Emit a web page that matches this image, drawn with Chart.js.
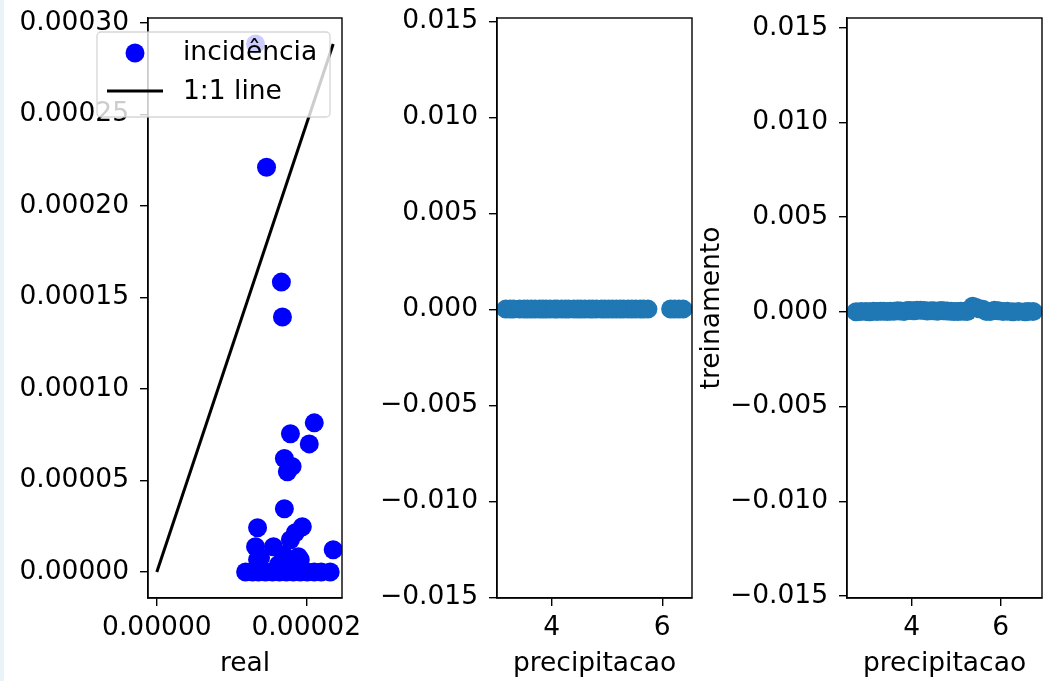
<!DOCTYPE html>
<html>
<head>
<meta charset="utf-8">
<script src="https://cdn.jsdelivr.net/npm/chart.js@4.4.1/dist/chart.umd.min.js"></script>
<style>
  body { margin: 0; background: #fff; width: 1046px; height: 681px; overflow: hidden; position: relative; }
  canvas { position: absolute; top: 0; }
  #faixa { position: absolute; left: 0; top: 0; width: 4px; height: 681px; background: #eaf3f8; }
</style>
</head>
<body>
<div id="faixa"></div>
<canvas id="painel1" width="360" height="681" style="left:0px"></canvas>
<canvas id="painel2" width="340" height="681" style="left:370px"></canvas>
<canvas id="painel3" width="370" height="681" style="left:690px"></canvas>
<script>
// dados lidos do grafico
// painel 1: real x previsto
const realX = [1.321e-5, 1.468e-5, 1.667e-5, 1.681e-5, 2.107e-5, 1.788e-5, 2.04e-5, 1.707e-5, 1.81e-5, 1.747e-5,
  1.707e-5, 1.947e-5, 1.348e-5, 1.321e-5, 1.561e-5, 2.36e-5, 1.788e-5, 1.854e-5, 1.894e-5, 1.694e-5,
  1.388e-5, 1.814e-5, 1.627e-5, 1.348e-5, 1.92e-5,
  1.188e-5, 1.281e-5, 1.361e-5, 1.454e-5, 1.548e-5, 1.641e-5, 1.734e-5, 1.827e-5, 1.92e-5, 2.013e-5,
  2.107e-5, 2.2e-5, 2.32e-5];
const previstoY = [2.885e-4, 2.212e-4, 1.584e-4, 1.393e-4, 8.15e-5, 7.55e-5, 7.0e-5, 6.2e-5, 5.77e-5, 5.48e-5,
  3.46e-5, 2.47e-5, 2.42e-5, 1.38e-5, 1.38e-5, 1.22e-5, 1.76e-5, 2.15e-5, 8.4e-6, 9.4e-6,
  7.8e-6, 5.6e-6, 4.0e-6, 6.7e-6, 6.7e-6,
  0, 0, 0, 0, 0, 0, 0, 0, 0, 0,
  0, 0, 0];

// painel 2: precipitacao x real
const precip2 = [3.17, 3.25, 3.31, 3.42, 3.5, 3.56, 3.63, 3.7, 3.78, 3.84, 3.9, 3.97, 4.05, 4.1, 4.18, 4.25,
  4.31, 4.4, 4.47, 4.53, 4.6, 4.68, 4.74, 4.81, 4.9, 4.96, 5.03, 5.1, 5.17, 5.24, 5.3, 5.38, 5.45,
  5.52, 5.6, 5.66, 5.74, 6.15, 6.22, 6.3, 6.376];
const real2 = [1.2e-5, 1.4e-5, 1.9e-5, 1.3e-5, 1.6e-5, 1.8e-5, 1.5e-5, 2.1e-5, 1.7e-5, 1.4e-5, 1.9e-5, 1.6e-5,
  1.8e-5, 2.0e-5, 1.7e-5, 1.5e-5, 1.9e-5, 2.2e-5, 1.6e-5, 1.8e-5, 1.4e-5, 2.0e-5, 1.7e-5, 1.5e-5,
  2.1e-5, 1.8e-5, 1.3e-5, 1.9e-5, 1.6e-5, 2.36e-5, 1.7e-5, 1.5e-5, 1.8e-5, 1.4e-5, 2.0e-5, 1.6e-5,
  1.3e-5, 1.9e-5, 1.5e-5, 1.7e-5, 1.2e-5];

// painel 3: precipitacao x treinamento
const precip3 = [2.75, 2.86, 2.97, 3.05, 3.14, 3.22, 3.3, 3.37, 3.45, 3.52, 3.6, 3.68, 3.75, 3.83, 3.9, 3.97,
  4.05, 4.12, 4.2, 4.28, 4.35, 4.43, 4.5, 4.58, 4.65, 4.72, 4.8, 4.88, 4.95, 5.03, 5.1, 5.18, 5.25,
  5.37, 5.45, 5.52, 5.6, 5.68, 5.77, 5.86, 5.95, 6.05, 6.15, 6.27, 6.4, 6.55, 6.62, 6.729];
const treino3 = [0, 1.0e-5, 2.0e-5, 0, 2.4e-5, 1.4e-5, 3.5e-5, 2.5e-5, 1.2e-5, 3.4e-5, 2.4e-5, 5.6e-5,
  4.0e-5, 2.0e-5, 6.2e-5, 7.0e-5, 5.5e-5, 8.1e-5, 7.5e-5, 7.0e-5, 4.4e-5, 6.0e-5, 5.0e-5, 3.0e-5,
  6.2e-5, 5.5e-5, 3.9e-5, 2.5e-5, 1.4e-5, 1.8e-5, 3.0e-5, 2.2e-5, 1.6e-5,
  2.885e-4, 2.212e-4, 1.584e-4, 1.393e-4, 2.0e-5, 1.2e-5, 7.6e-5, 5.0e-5, 1.3e-5, 2.4e-5,
  0, 1.0e-5, 0, 1.4e-5, 1.22e-5];

const ticksY1 = [0, 0.00005, 0.0001, 0.00015, 0.0002, 0.00025, 0.0003];
const ticksX1 = [0, 0.00002];
const ticksY = [-0.015, -0.01, -0.005, 0, 0.005, 0.01, 0.015];
const ticksX = [4, 6];

Chart.defaults.font.family = 'DejaVu Sans';
Chart.defaults.font.size = 26.5;
Chart.defaults.color = '#000';

function pontos(xs, ys) {
  return xs.map((x, i) => ({x: x, y: ys[i]}));
}

function fmtMenos(v, casas) {
  return v < 0 ? '\u2212' + Math.abs(v).toFixed(casas) : v.toFixed(casas);
}

// moldura preta em volta da area do grafico
const moldura = {
  id: 'moldura',
  afterDatasetsDraw(chart) {
    const a = chart.chartArea, ctx = chart.ctx;
    ctx.save();
    ctx.strokeStyle = '#000';
    ctx.lineWidth = 1.4;
    ctx.strokeRect(a.left, a.top, a.right - a.left, a.bottom - a.top);
    ctx.restore();
  }
};

// legenda estilo matplotlib, por cima dos pontos
const legenda = {
  id: 'legenda',
  afterDatasetsDraw(chart) {
    const ctx = chart.ctx, ds = chart.data.datasets;
    ctx.save();
    ctx.beginPath();
    ctx.roundRect(97, 32, 233, 85, 4);
    ctx.fillStyle = 'rgba(255,255,255,0.8)';
    ctx.fill();
    ctx.strokeStyle = 'rgba(204,204,204,0.8)';
    ctx.lineWidth = 1.3;
    ctx.stroke();
    ctx.beginPath();
    ctx.arc(135, 53, 9.5, 0, Math.PI * 2);
    ctx.fillStyle = ds[0].backgroundColor;
    ctx.fill();
    ctx.beginPath();
    ctx.moveTo(107, 91);
    ctx.lineTo(163, 91);
    ctx.strokeStyle = ds[1].borderColor;
    ctx.lineWidth = 3;
    ctx.stroke();
    ctx.fillStyle = '#000';
    ctx.font = '26.5px "DejaVu Sans"';
    ctx.textBaseline = 'middle';
    ctx.fillText(ds[0].label, 183, 53);
    ctx.fillText(ds[1].label, 183, 92);
    ctx.restore();
  }
};

function eixos(cfg) {
  return {
    x: {
      type: 'linear',
      min: cfg.xMin, max: cfg.xMax,
      afterBuildTicks: s => { s.ticks = cfg.xTicks.map(v => ({value: v})); },
      afterFit: s => { s.height = 83; s.paddingLeft = 0; s.paddingRight = 0; },
      ticks: { autoSkip: false, maxRotation: 0, padding: 6, callback: cfg.fmtX },
      grid: { drawOnChartArea: false, drawTicks: true, tickLength: 8, color: '#000', lineWidth: 1.4 },
      border: { color: '#000', width: 1.4 },
      title: { display: true, text: cfg.tituloX, padding: {top: 0, bottom: 1} }
    },
    y: {
      type: 'linear',
      min: cfg.yMin, max: cfg.yMax,
      afterBuildTicks: s => { s.ticks = cfg.yTicks.map(v => ({value: v})); },
      afterFit: s => { s.width = cfg.larguraY; s.paddingTop = 0; s.paddingBottom = 0; },
      ticks: { autoSkip: false, padding: 11, callback: cfg.fmtY },
      grid: { drawOnChartArea: false, drawTicks: true, tickLength: 8, color: '#000', lineWidth: 1.4 },
      border: { color: '#000', width: 1.4 },
      title: { display: !!cfg.tituloY, text: cfg.tituloY || '', padding: {top: 6, bottom: 0} }
    }
  };
}

const comum = {
  responsive: false,
  devicePixelRatio: 1,
  animation: false,
  events: [],
  plugins: { legend: { display: false }, tooltip: { enabled: false } }
};

// painel 1
new Chart(document.getElementById('painel1'), {
  type: 'scatter',
  data: {
    datasets: [{
      label: 'incidência',
      data: pontos(realX, previstoY),
      backgroundColor: '#0000ff',
      pointRadius: 9.5,
      pointBorderWidth: 0,
      clip: 0
    }, {
      label: '1:1 line',
      data: [{x: 0, y: 0}, {x: Math.max(...realX), y: Math.max(...previstoY)}],
      showLine: true,
      borderColor: '#000',
      borderWidth: 3,
      pointRadius: 0,
      clip: 0
    }]
  },
  options: Object.assign({}, comum, {
    layout: { padding: {top: 18, right: 18, bottom: 0, left: 0} },
    scales: eixos({
      xMin: -1.18e-6, xMax: 2.478e-5, xTicks: ticksX1,
      yMin: -1.42e-5, yMax: 3.027e-4, yTicks: ticksY1,
      fmtX: v => v.toFixed(5), fmtY: v => v.toFixed(5),
      larguraY: 148, tituloX: 'real'
    })
  }),
  plugins: [moldura, legenda]
});

// painel 2
new Chart(document.getElementById('painel2'), {
  type: 'scatter',
  data: {
    datasets: [{
      data: pontos(precip2, real2),
      backgroundColor: '#1f77b4',
      pointRadius: 9.5,
      pointBorderWidth: 0,
      clip: 0
    }]
  },
  options: Object.assign({}, comum, {
    layout: { padding: {top: 18, right: 18, bottom: 0, left: 0} },
    scales: eixos({
      xMin: 3.011, xMax: 6.537, xTicks: ticksX,
      yMin: -0.01503, yMax: 0.01517, yTicks: ticksY,
      fmtX: v => String(v), fmtY: v => fmtMenos(v, 3),
      larguraY: 127, tituloX: 'precipitacao'
    })
  }),
  plugins: [moldura]
});

// painel 3 (canvas passa da borda da pagina; o body corta)
new Chart(document.getElementById('painel3'), {
  type: 'scatter',
  data: {
    datasets: [{
      data: pontos(precip3, treino3),
      backgroundColor: '#1f77b4',
      pointRadius: 9.5,
      pointBorderWidth: 0,
      clip: 0
    }]
  },
  options: Object.assign({}, comum, {
    layout: { padding: {top: 18, right: 18, bottom: 0, left: 0} },
    scales: eixos({
      xMin: 2.546, xMax: 6.928, xTicks: ticksX,
      yMin: -0.01511, yMax: 0.01551, yTicks: ticksY,
      fmtX: v => String(v), fmtY: v => fmtMenos(v, 3),
      larguraY: 157, tituloX: 'precipitacao', tituloY: 'treinamento'
    })
  }),
  plugins: [moldura]
});
</script>
</body>
</html>
